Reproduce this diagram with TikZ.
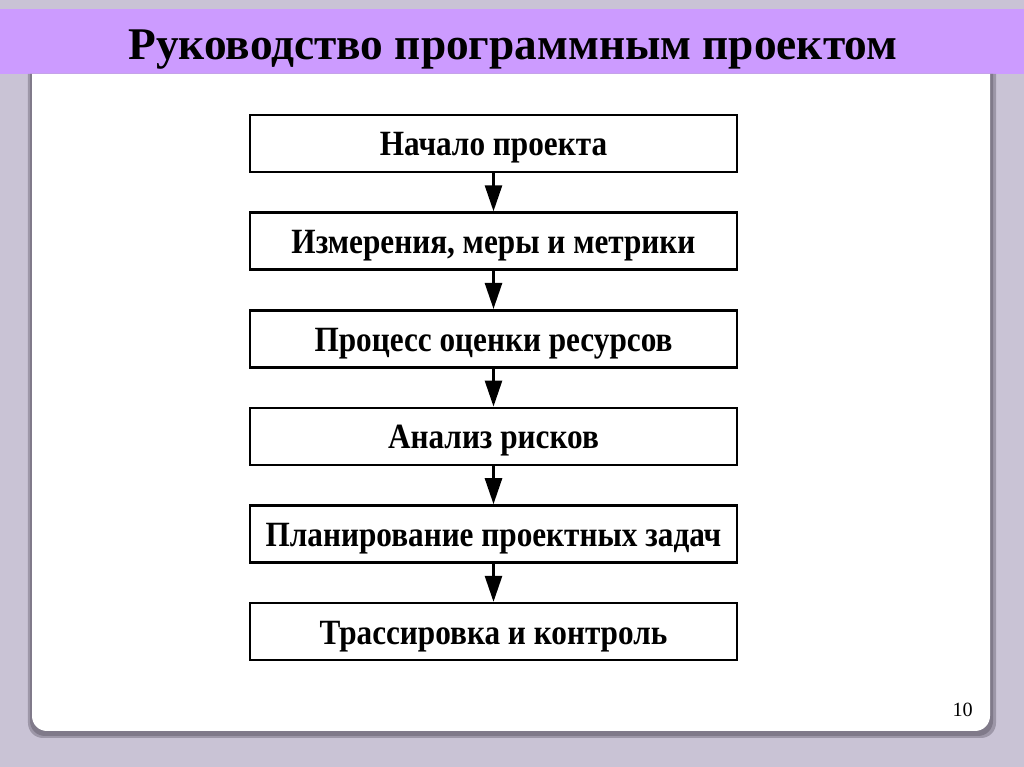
\documentclass[tikz,border=0pt]{standalone}
\usepackage{fontspec}
\setmainfont{Liberation Serif}
\newfontfamily\stagefont[FakeStretch=0.88]{Liberation Serif}
\usetikzlibrary{
    arrows,
    arrows.meta,
    positioning,
}
\definecolor{SlideBg}{RGB}{201,195,213}
\definecolor{TitleBar}{RGB}{204,155,255}
\definecolor{PanelShadow}{RGB}{128,122,138}
\tikzstyle{stage}=[draw,rectangle,line width=1.5pt,minimum width=9.74cm,minimum height=1.14cm,inner sep=0pt,text height=0.5cm,text depth=0pt,font=\stagefont\bfseries\fontsize{20.2pt}{24pt}\selectfont]
\tikzset{
    >=latex
}
\begin{document}
\begin{tikzpicture}
    \tikzstyle{flow}=[-{Triangle[length=0.52cm,width=0.34cm]},line width=1.5pt]

    % Slide
    \fill[SlideBg] (0,0) rectangle (20.48,-15.34);
    \useasboundingbox (0,0) rectangle (20.48,-15.34);
    \fill[TitleBar] (0,-0.18) rectangle (20.48,-1.48);
    \fill[PanelShadow!60!SlideBg,rounded corners=0.3cm] (0.56,-1.48) -- (0.56,-14.76) -- (19.92,-14.76) -- (19.92,-1.48);
    \fill[PanelShadow,rounded corners=0.3cm] (0.6,-1.48) -- (0.6,-14.72) -- (19.86,-14.72) -- (19.86,-1.48);
    \fill[white,rounded corners=0.3cm] (0.64,-1.48) -- (0.64,-14.62) -- (19.8,-14.62) -- (19.8,-1.48);
    \node[anchor=base,font=\bfseries\fontsize{25.8pt}{31pt}\selectfont] (title) at (10.26,-1.2) {Руководство программным проектом};
    \node[anchor=base east,font=\fontsize{11.5pt}{14pt}\selectfont] (page) at (19.58,-14.34) {10};

    % Stages
    \begin{scope}[node distance=0.76cm]
        \node[stage] (start) at (9.87,-2.87) {Начало проекта};
        \node[stage,below=of start] (metrics) {Измерения, меры и метрики};
        \node[stage,below=of metrics] (estimate) {Процесс оценки ресурсов};
        \node[stage,below=of estimate] (risks) {Анализ рисков};
        \node[stage,below=of risks] (planning) {Планирование проектных задач};
        \node[stage,below=of planning] (tracking) {Трассировка и контроль};
    \end{scope}

    \draw[flow] (start) -- (metrics);
    \draw[flow] (metrics) -- (estimate);
    \draw[flow] (estimate) -- (risks);
    \draw[flow] (risks) -- (planning);
    \draw[flow] (planning) -- (tracking);
\end{tikzpicture}
\end{document}
